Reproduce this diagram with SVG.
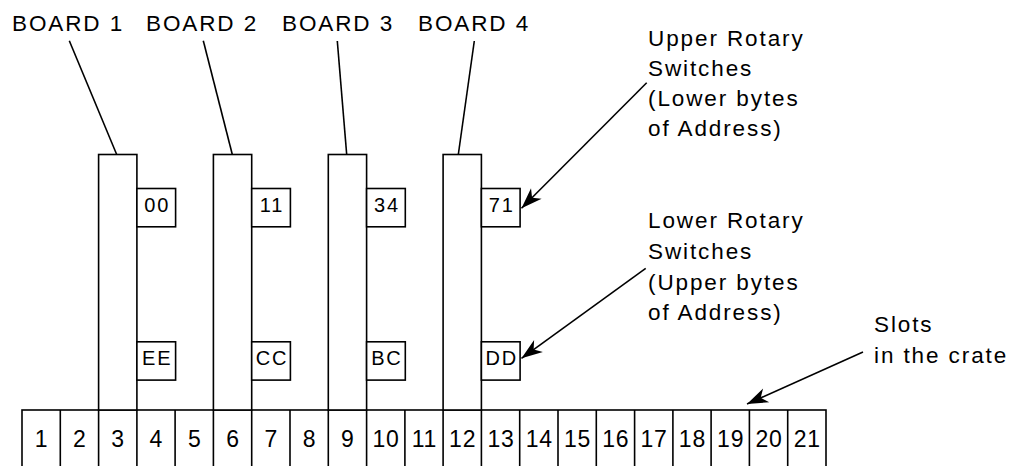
<svg xmlns="http://www.w3.org/2000/svg" width="1011" height="466" viewBox="0 0 1011 466">
<style>
.ln{stroke:#000;stroke-width:1.6;fill:none}
.bx{stroke:#000;stroke-width:1.6;fill:#fff}
.t{font-family:"Liberation Sans",Arial,sans-serif;fill:#000}
.lbl{font-size:22.5px;letter-spacing:1.9px}
.sw{font-size:20px;letter-spacing:1.8px;text-anchor:middle}
.num{font-size:23px;letter-spacing:0.8px;text-anchor:middle}
</style>
<defs>
<marker id="ah" markerUnits="userSpaceOnUse" markerWidth="30" markerHeight="20" viewBox="-22 -10 24 20" refX="0" refY="0" orient="auto">
<path d="M0,0 L-21,-7.5 L-15,0 L-21,7.5 z" fill="#000"/>
</marker>
</defs>
<rect id="bg" x="0" y="0" width="1011" height="466" fill="#fff"/>

<g id="crate">
<rect class="ln" x="22" y="410" width="804" height="80"/>
<path class="ln" d="M60.3,410V466 M98.6,410V466 M136.9,410V466 M175.1,410V466 M213.4,410V466 M251.7,410V466 M290,410V466 M328.3,410V466 M366.6,410V466 M404.9,410V466 M443.1,410V466 M481.4,410V466 M519.7,410V466 M558,410V466 M596.3,410V466 M634.6,410V466 M672.9,410V466 M711.1,410V466 M749.4,410V466 M787.7,410V466"/>
<g class="t num">
<text x="41.5" y="446.5">1</text>
<text x="79.8" y="446.5">2</text>
<text x="118.1" y="446.5">3</text>
<text x="156.4" y="446.5">4</text>
<text x="194.7" y="446.5">5</text>
<text x="233" y="446.5">6</text>
<text x="271.3" y="446.5">7</text>
<text x="309.5" y="446.5">8</text>
<text x="347.8" y="446.5">9</text>
<text x="386.1" y="446.5">10</text>
<text x="424.4" y="446.5">11</text>
<text x="462.7" y="446.5">12</text>
<text x="501" y="446.5">13</text>
<text x="539.3" y="446.5">14</text>
<text x="577.5" y="446.5">15</text>
<text x="615.8" y="446.5">16</text>
<text x="654.1" y="446.5">17</text>
<text x="692.4" y="446.5">18</text>
<text x="730.7" y="446.5">19</text>
<text x="769" y="446.5">20</text>
<text x="807.3" y="446.5">21</text>
</g>
</g>

<g id="board1">
<rect class="bx" x="98.6" y="154.5" width="38.3" height="255.5"/>
<rect class="bx" x="136.9" y="188.5" width="38.7" height="38.3"/>
<text class="t sw" x="157.2" y="211.5">00</text>
<rect class="bx" x="136.9" y="341.8" width="38.7" height="38.3"/>
<text class="t sw" x="157.2" y="365">EE</text>
</g>
<g id="board2">
<rect class="bx" x="213.4" y="154.5" width="38.3" height="255.5"/>
<rect class="bx" x="251.7" y="188.5" width="38.7" height="38.3"/>
<text class="t sw" x="272" y="211.5">11</text>
<rect class="bx" x="251.7" y="341.8" width="38.7" height="38.3"/>
<text class="t sw" x="272" y="365">CC</text>
</g>
<g id="board3">
<rect class="bx" x="328.3" y="154.5" width="38.3" height="255.5"/>
<rect class="bx" x="366.6" y="188.5" width="38.7" height="38.3"/>
<text class="t sw" x="386.9" y="211.5">34</text>
<rect class="bx" x="366.6" y="341.8" width="38.7" height="38.3"/>
<text class="t sw" x="386.9" y="365">BC</text>
</g>
<g id="board4">
<rect class="bx" x="443.1" y="154.5" width="38.3" height="255.5"/>
<rect class="bx" x="481.4" y="188.5" width="38.7" height="38.3"/>
<text class="t sw" x="501.7" y="211.5">71</text>
<rect class="bx" x="481.4" y="341.8" width="38.7" height="38.3"/>
<text class="t sw" x="501.7" y="365">DD</text>
</g>

<g id="labels" class="t lbl">
<text x="12" y="30.5">BOARD 1</text>
<text x="146" y="30.5">BOARD 2</text>
<text x="282" y="30.5">BOARD 3</text>
<text x="418" y="30.5">BOARD 4</text>
<text x="648" y="45.5">Upper Rotary</text>
<text x="648" y="75.5">Switches</text>
<text x="648" y="105.5">(Lower bytes</text>
<text x="648" y="135.5">of Address)</text>
<text x="648" y="228">Lower Rotary</text>
<text x="648" y="258.5">Switches</text>
<text x="648" y="289.5">(Upper bytes</text>
<text x="648" y="320">of Address)</text>
<text x="874" y="332">Slots</text>
<text x="874" y="363">in the crate</text>
</g>

<g id="connectors">
<line class="ln" x1="69.3" y1="40.7" x2="116.7" y2="154.5"/>
<line class="ln" x1="203.3" y1="40.7" x2="232.3" y2="154.5"/>
<line class="ln" x1="337.3" y1="41" x2="346.7" y2="154.5"/>
<line class="ln" x1="474.3" y1="41" x2="458.3" y2="154.5"/>
<line class="ln" x1="646.7" y1="82.7" x2="521.5" y2="208.3" marker-end="url(#ah)"/>
<line class="ln" x1="645.7" y1="268.3" x2="521.5" y2="358.3" marker-end="url(#ah)"/>
<line class="ln" x1="863" y1="352" x2="747" y2="404" marker-end="url(#ah)"/>
</g>
</svg>
